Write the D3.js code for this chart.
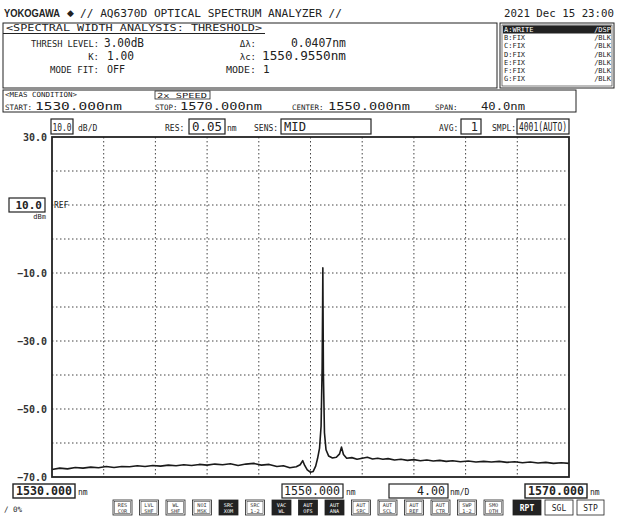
<!DOCTYPE html>
<html>
<head>
<meta charset="utf-8">
<script src="https://cdn.jsdelivr.net/npm/d3@7"></script>
<style>
  body { margin: 0; background: #fff; }
  text { font-family: "DejaVu Sans Mono", monospace; fill: #222; }
</style>
</head>
<body>
<script>
// trace (nm, dBm)
const wavelength = [1530.0, 1530.6, 1531.2, 1531.8, 1532.4, 1533.0, 1533.6, 1534.2, 1534.8, 1535.4,
  1536.0, 1536.6, 1537.2, 1537.8, 1538.4, 1539.0, 1539.6, 1540.2, 1540.8, 1541.4,
  1542.0, 1542.6, 1543.2, 1543.8, 1544.4, 1545.0, 1545.6, 1546.2, 1546.8, 1547.4,
  1547.9, 1548.4, 1548.9, 1549.2, 1549.4, 1549.55, 1549.75, 1550.0, 1550.2, 1550.4,
  1550.55, 1550.7, 1550.82, 1550.9, 1550.94, 1550.955, 1550.97, 1551.0, 1551.08, 1551.2,
  1551.4, 1551.7, 1552.0, 1552.25, 1552.4, 1552.55, 1552.8, 1553.2, 1553.6, 1554.0,
  1554.4, 1554.8, 1555.2, 1555.6, 1556.0, 1556.5, 1557.0, 1557.5, 1558.0, 1558.5,
  1559.0, 1559.5, 1560.0, 1560.5, 1561.0, 1561.6, 1562.2, 1562.8, 1563.4, 1564.0,
  1564.6, 1565.2, 1565.8, 1566.4, 1567.0, 1567.6, 1568.2, 1568.8, 1569.4, 1570.0];
const power = [-67.8, -67.4, -67.6, -67.2, -67.4, -67.1, -67.3, -66.9, -67.2, -66.9,
  -67.0, -66.7, -66.9, -66.6, -66.8, -66.5, -66.7, -66.4, -66.6, -66.3,
  -66.5, -66.2, -66.4, -66.1, -66.6, -66.2, -66.0, -66.5, -66.3, -66.9,
  -66.7, -67.3, -67.0, -66.4, -65.2, -66.6, -67.9, -68.6, -68.4, -66.8,
  -64.5, -61.5, -55.0, -38.0, -18.0, -8.5, -20.0, -40.0, -57.0, -62.0,
  -63.8, -64.4, -64.2, -63.2, -61.2, -63.4, -64.5, -64.3, -64.8, -64.5,
  -64.2, -64.7, -64.5, -64.8, -64.6, -65.0, -64.8, -65.1, -64.9, -65.2,
  -65.0, -65.3, -65.1, -65.4, -65.2, -65.5, -65.3, -65.6, -65.4, -65.6,
  -65.4, -65.7, -65.5, -65.8, -65.6, -65.9, -65.7, -66.0, -65.8, -66.0];

const yLabelValues = [30, -10, -30, -50, -70];
const traceRows = ["A:WRITE", "B:FIX", "C:FIX", "D:FIX", "E:FIX", "F:FIX", "G:FIX"];
const traceModes = ["/DSP", "/BLK", "/BLK", "/BLK", "/BLK", "/BLK", "/BLK"];
const buttons = [["RES", "COR"], ["LVL", "SHF"], ["WL", "SHF"], ["NOI", "MSK"], ["SRC", "XOM"],
  ["SRC", "1-2"], ["VAC", "WL"], ["AUT", "OFS"], ["AUT", "ANA"], ["AUT", "SRC"], ["AUT", "SCL"],
  ["AUT", "REF"], ["AUT", "CTR"], ["SWP", "1-2"], ["SMO", "OTH"]];
const buttonsOn = ["SRCXOM", "VACWL", "AUTOFS", "AUTANA"];

const w = 619, h = 516;
const plot = {left: 52, right: 569, top: 137, bottom: 477};

const svg = d3.select("body").append("svg").attr("width", w).attr("height", h);

function txt(x, y, s, size, opts = {}) {
  const t = svg.append("text").attr("x", x).attr("y", y).attr("font-size", size).text(s);
  if (opts.anchor) t.attr("text-anchor", opts.anchor);
  if (opts.len) t.attr("textLength", opts.len).attr("lengthAdjust", "spacingAndGlyphs");
  if (opts.weight) t.attr("font-weight", opts.weight);
  if (opts.fill) t.style("fill", opts.fill);
  if (opts.family) t.style("font-family", opts.family);
  return t;
}
function box(x, y, bw, bh, sw = 1, fill = "none") {
  return svg.append("rect").attr("x", x).attr("y", y).attr("width", bw).attr("height", bh)
    .attr("fill", fill).attr("stroke", "#222").attr("stroke-width", sw);
}

// header
txt(4, 17, "YOKOGAWA", 10, {len: 56, weight: "bold", family: "Liberation Sans"});
txt(67, 16, "\u25C6", 9, {family: "DejaVu Sans"});
txt(80, 17, "// AQ6370D OPTICAL SPECTRUM ANALYZER //", 11, {len: 262});
txt(614, 17, "2021 Dec 15 23:00", 11, {anchor: "end", len: 110});

// analysis box
box(3, 23, 494, 65);
txt(6, 31, "<SPECTRAL WIDTH ANALYSIS: THRESHOLD>", 8, {len: 256});
svg.append("line").attr("x1", 3).attr("x2", 265).attr("y1", 33.5).attr("y2", 33.5).attr("stroke", "#222");
txt(99, 47, "THRESH LEVEL:", 9, {anchor: "end", len: 68});
txt(104, 47, "3.00dB", 11.5, {len: 40});
txt(99, 60, "K:", 9, {anchor: "end"});
txt(107, 60, "1.00", 11.5, {len: 27});
txt(99, 72.5, "MODE FIT:", 9, {anchor: "end", len: 49});
txt(107, 72.5, "OFF", 11, {len: 18});
txt(256, 47, "\u0394\u03BB:", 9, {anchor: "end"});
txt(346, 47, "0.0407nm", 11.5, {anchor: "end", len: 55});
txt(256, 60, "\u03BBc:", 9, {anchor: "end"});
txt(346, 60, "1550.9550nm", 11.5, {anchor: "end", len: 84});
txt(256, 72.5, "MODE:", 9, {anchor: "end", len: 30});
txt(263, 72.5, "1", 11);

// trace list box
box(500, 23, 114, 65);
box(502, 25, 110, 61, 0.6);
traceRows.forEach((r, i) => {
  const y = 32 + i * 8.2;
  if (i === 0) svg.append("rect").attr("x", 503).attr("y", y - 6.5).attr("width", 108).attr("height", 8).attr("fill", "#222");
  const c = i === 0 ? "#fff" : "#222";
  txt(504, y, r, 7, {fill: c});
  txt(611, y, traceModes[i], 7, {anchor: "end", fill: c});
});

// measurement condition box
box(3, 90, 573, 22);
txt(5, 97, "<MEAS CONDITION>", 7, {len: 72});
box(155, 91, 55, 8, 0.8);
txt(157, 97.5, "2x SPEED", 7, {len: 50});
txt(5, 109.5, "START:", 7.5);
txt(35, 109.5, "1530.000nm", 11, {len: 87});
txt(155, 109.5, "STOP:", 7.5);
txt(180, 109.5, "1570.000nm", 11, {len: 82});
txt(292, 109.5, "CENTER:", 7.5);
txt(328, 109.5, "1550.000nm", 11, {len: 82});
txt(435, 109.5, "SPAN:", 7.5);
txt(525, 109.5, "40.0nm", 11, {anchor: "end", len: 44});

// settings row above plot
box(51, 119, 22, 15, 1.2);
txt(62, 131, "10.0", 10, {anchor: "middle", len: 19});
txt(78, 131, "dB/D", 8);
txt(165, 131, "RES:", 8);
box(189, 119, 36, 15, 1.2);
txt(207, 131, "0.05", 12, {anchor: "middle", len: 30});
txt(227, 131, "nm", 8);
txt(254, 131, "SENS:", 8);
box(281, 119, 90, 15, 1.2);
txt(284, 131, "MID", 12, {len: 22});
txt(439, 131, "AVG:", 8);
box(461, 119, 20, 15, 1.2);
txt(478, 131, "1", 12, {anchor: "end"});
txt(492, 131, "SMPL:", 8);
box(517, 119, 52, 15, 1.2);
txt(567, 131, "4001(AUTO)", 12, {anchor: "end", len: 48});

// scales
const x = d3.scaleLinear().domain([1530, 1570]).range([plot.left, plot.right]);
const y = d3.scaleLinear().domain([-70, 30]).range([plot.bottom, plot.top]);

// grid
const gx = d3.range(1534, 1570, 4);
const gy = d3.range(-60, 30, 10);
svg.append("g").selectAll("line").data(gx).join("line")
  .attr("x1", d => x(d)).attr("x2", d => x(d)).attr("y1", plot.top).attr("y2", plot.bottom)
  .attr("stroke", "#444").attr("stroke-width", 1).attr("stroke-dasharray", "1.5,2.5");
svg.append("g").selectAll("line").data(gy).join("line")
  .attr("y1", d => y(d)).attr("y2", d => y(d)).attr("x1", plot.left).attr("x2", plot.right)
  .attr("stroke", "#444").attr("stroke-width", 1).attr("stroke-dasharray", "1.5,2.5");

// y labels
const yAxis = d3.axisLeft(y).tickValues(yLabelValues).tickSize(0).tickPadding(5).tickFormat(d3.format(".1f"));
const ya = svg.append("g").attr("transform", `translate(${plot.left},0)`).call(yAxis);
ya.select(".domain").remove();
ya.selectAll("text").attr("font-size", 10).style("font-family", "DejaVu Sans Mono").attr("font-weight", "bold").style("fill", "#333");

// ref level
box(9, y(10) - 7, 36, 14, 1.2);
txt(42, y(10) + 4, "10.0", 11, {anchor: "end", weight: "bold"});
txt(54, y(10) + 3, "REF", 8);
txt(46, y(10) + 14, "dBm", 7, {anchor: "end"});

// trace
const line = d3.line().x((d, i) => x(wavelength[i])).y(d => y(d));
svg.append("path").datum(power).attr("d", line)
  .attr("fill", "none").attr("stroke", "#1a1a1a").attr("stroke-width", 1.6).attr("stroke-linejoin", "round");

// frame
svg.append("rect").attr("x", plot.left).attr("y", plot.top)
  .attr("width", plot.right - plot.left).attr("height", plot.bottom - plot.top)
  .attr("fill", "none").attr("stroke", "#222").attr("stroke-width", 1.8);

// x readouts
box(13, 484, 62, 14, 1.4);
txt(44, 495, "1530.000", 12, {anchor: "middle", len: 56, weight: "bold"});
txt(78, 495, "nm", 8);
box(282, 484, 61, 14, 1.2);
txt(312, 495, "1550.000", 12, {anchor: "middle", len: 56});
txt(346, 495, "nm", 8);
box(389, 484, 59, 14, 1.2);
txt(445, 495, "4.00", 12, {anchor: "end", len: 28});
txt(450, 495, "nm/D", 8);
box(525, 484, 62, 14, 1.4);
txt(556, 495, "1570.000", 12, {anchor: "middle", len: 56, weight: "bold"});
txt(590, 495, "nm", 8);

// bottom soft keys
txt(4, 512, "/ 0%", 7.5);
buttons.forEach((b, i) => {
  const bx = 113 + i * 26.5;
  const on = buttonsOn.includes(b[0] + b[1]);
  box(bx, 500, 19, 15, 0.8, on ? "#222" : "#fff");
  if (!on) box(bx + 1.5, 501.5, 16, 12, 0.5);
  const c = on ? "#fff" : "#333";
  txt(bx + 9.5, 506.5, b[0], 5.2, {anchor: "middle", fill: c});
  txt(bx + 9.5, 513, b[1], 5.2, {anchor: "middle", fill: c});
});
box(513, 500, 28, 15, 0.8, "#222");
txt(527, 511, "RPT", 8, {anchor: "middle", fill: "#fff", weight: "bold"});
box(545, 500, 28, 15, 0.8);
txt(559, 511, "SGL", 8, {anchor: "middle"});
box(577, 500, 27, 15, 0.8);
txt(590.5, 511, "STP", 8, {anchor: "middle"});
</script>
</body>
</html>
